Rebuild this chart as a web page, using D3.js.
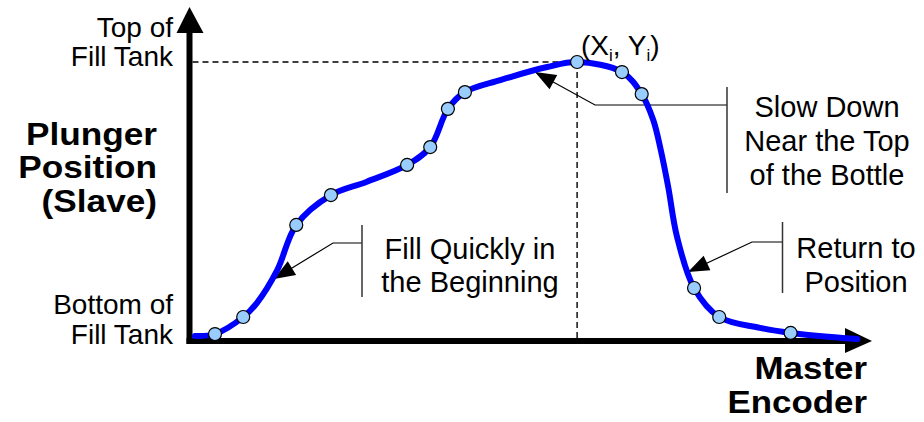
<!DOCTYPE html>
<html>
<head>
<meta charset="utf-8">
<script src="https://cdn.jsdelivr.net/npm/d3@7"></script>
<style>
  html, body { margin: 0; padding: 0; background: #fff; }
  svg { display: block; }
  text { font-family: Arial, "Liberation Sans", sans-serif; fill: #000; }
</style>
</head>
<body>
<svg id="chart" width="924" height="422"></svg>
<script>
// ---- Data (normalized units: master 0-100, plunger 0-100 = bottom..top of fill tank)
const curveX = [0.8, 3.75, 7.9, 9.9, 12.9, 15.7, 20.8, 26.0, 32.0, 35.4, 38.0, 40.5, 45.7, 52.6, 57.0, 63.6, 66.5, 68.2, 69.3, 70.4, 71.7, 74.2, 77.9, 83.9, 88.4, 98.2];
const curveY = [1.8, 2.5, 8.6, 13.6, 25.4, 41.6, 52.3, 57.0, 63.1, 69.5, 83.2, 89.2, 93.5, 98.2, 100, 96.4, 88.5, 79.2, 68.5, 55.2, 37.3, 19.0, 8.6, 4.7, 2.9, 0.7];
const markerIndex = [1, 2, 5, 6, 8, 9, 10, 11, 14, 15, 16, 21, 22, 24];
const peakIndex = 14;
const yAxisLabels = [["Top of", "Fill Tank"], ["Bottom of", "Fill Tank"]];
const yTitle = ["Plunger", "Position", "(Slave)"];
const xTitle = ["Master", "Encoder"];
const noteSlow = ["Slow Down", "Near the Top", "of the Bottle"];
const noteFill = ["Fill Quickly in", "the Beginning"];
const noteReturn = ["Return to", "Position"];

// ---- Layout
const svg = d3.select("#chart");
const x = d3.scaleLinear().domain([0, 100]).range([189.5, 869.5]);
const y = d3.scaleLinear().domain([0, 100]).range([341, 62]);
const pts = curveX.map((v, i) => [v, curveY[i]]);

// axes as arrows
const x0 = x(0), y0 = y(0);
const xTip = 872, yTip = 7;
svg.append("line").attr("x1", x0).attr("y1", y0 + 3).attr("x2", x0).attr("y2", yTip + 20)
  .attr("stroke", "#000").attr("stroke-width", 6);
svg.append("path").attr("d", `M${x0},${yTip} L${x0 - 13},${yTip + 26} L${x0 + 14},${yTip + 26} Z`).attr("fill", "#000");
svg.append("line").attr("x1", x0 - 3).attr("y1", y0).attr("x2", xTip - 20).attr("y2", y0)
  .attr("stroke", "#000").attr("stroke-width", 6);
svg.append("path").attr("d", `M${xTip},${y0} L${xTip - 27},${y0 - 13} L${xTip - 27},${y0 + 12} Z`).attr("fill", "#000");

// dashed guide lines to (Xi, Yi)
const pk = pts[peakIndex];
svg.append("line").attr("x1", x0 + 3).attr("y1", y(pk[1])).attr("x2", x(pk[0])).attr("y2", y(pk[1]))
  .attr("stroke", "#000").attr("stroke-width", 1.4).attr("stroke-dasharray", "6,4");
svg.append("line").attr("x1", x(pk[0])).attr("y1", y(pk[1])).attr("x2", x(pk[0])).attr("y2", y0 - 3)
  .attr("stroke", "#000").attr("stroke-width", 1.4).attr("stroke-dasharray", "6,4");

// annotations: leader lines with arrowheads
function arrowNote(tip, elbow, bracketX, bracketTop, bracketBottom) {
  const g = svg.append("g");
  g.append("polyline")
    .attr("points", `${tip[0]},${tip[1]} ${elbow[0]},${elbow[1]} ${bracketX},${elbow[1]}`)
    .attr("fill", "none").attr("stroke", "#000").attr("stroke-width", 1.2);
  g.append("line").attr("x1", bracketX).attr("y1", bracketTop).attr("x2", bracketX).attr("y2", bracketBottom)
    .attr("stroke", "#333").attr("stroke-width", 1.5);
  const dx = elbow[0] - tip[0], dy = elbow[1] - tip[1];
  const len = Math.hypot(dx, dy), ux = dx / len, uy = dy / len;
  const L = 21, W = 8;
  const bx = tip[0] + ux * L, by = tip[1] + uy * L;
  g.append("path")
    .attr("d", `M${tip[0]},${tip[1]} L${bx - uy * W},${by + ux * W} L${bx + uy * W},${by - ux * W} Z`)
    .attr("fill", "#000");
}
arrowNote([535, 72], [595, 105], 727, 87, 193);
arrowNote([274, 279], [333, 243], 362, 225, 297);
arrowNote([688, 272], [752, 242], 782.5, 222, 293);

// curve
const line = d3.line().x(d => x(d[0])).y(d => y(d[1])).curve(d3.curveCatmullRom.alpha(0.5));
svg.append("path").datum(pts).attr("d", line)
  .attr("fill", "none").attr("stroke", "#0000ff").attr("stroke-width", 6)
  .attr("stroke-linecap", "round").attr("stroke-linejoin", "round");

// markers
svg.append("g").selectAll("circle").data(markerIndex.map(i => pts[i])).join("circle")
  .attr("cx", d => x(d[0])).attr("cy", d => y(d[1])).attr("r", 6.5)
  .attr("fill", "#99ccff").attr("stroke", "#000").attr("stroke-width", 1.2);

// text helper
function lines(arr, xPos, yStart, dy, size, anchor, weight) {
  const t = svg.append("text").attr("font-size", size).attr("text-anchor", anchor)
    .attr("font-weight", weight || "normal");
  arr.forEach((s, i) => t.append("tspan").attr("x", xPos).attr("y", yStart + i * dy).text(s));
  return t;
}

// y-axis end labels
lines(yAxisLabels[0], 173, 37, 29, 28, "end");
lines(yAxisLabels[1], 173, 314, 30, 28, "end");

// y title (slightly wide bold)
const yt = lines(yTitle, 0, 145, 33.5, 32, "end", "bold");
yt.attr("transform", "translate(157,0) scale(1.1,1)");
yt.selectAll("tspan").attr("x", 0);

// x title (slightly wide bold)
const xt = lines(xTitle, 0, 379, 34, 32, "end", "bold");
xt.attr("transform", "translate(867,0) scale(1.09,1)");
xt.selectAll("tspan").attr("x", 0);

// (Xi, Yi)
const pl = svg.append("text").attr("font-size", 28).attr("x", 581).attr("y", 55);
pl.append("tspan").text("(X");
pl.append("tspan").attr("font-size", 17).attr("dy", 6).text("i");
pl.append("tspan").attr("dy", -6).text(", Y");
pl.append("tspan").attr("font-size", 17).attr("dy", 6).text("i");
pl.append("tspan").attr("dy", -6).text(")");

// notes
lines(noteSlow, 827, 117, 34, 29, "middle");
lines(noteFill, 470, 259, 33, 29, "middle");
lines(noteReturn, 856, 258, 34, 29, "middle");
</script>
</body>
</html>
